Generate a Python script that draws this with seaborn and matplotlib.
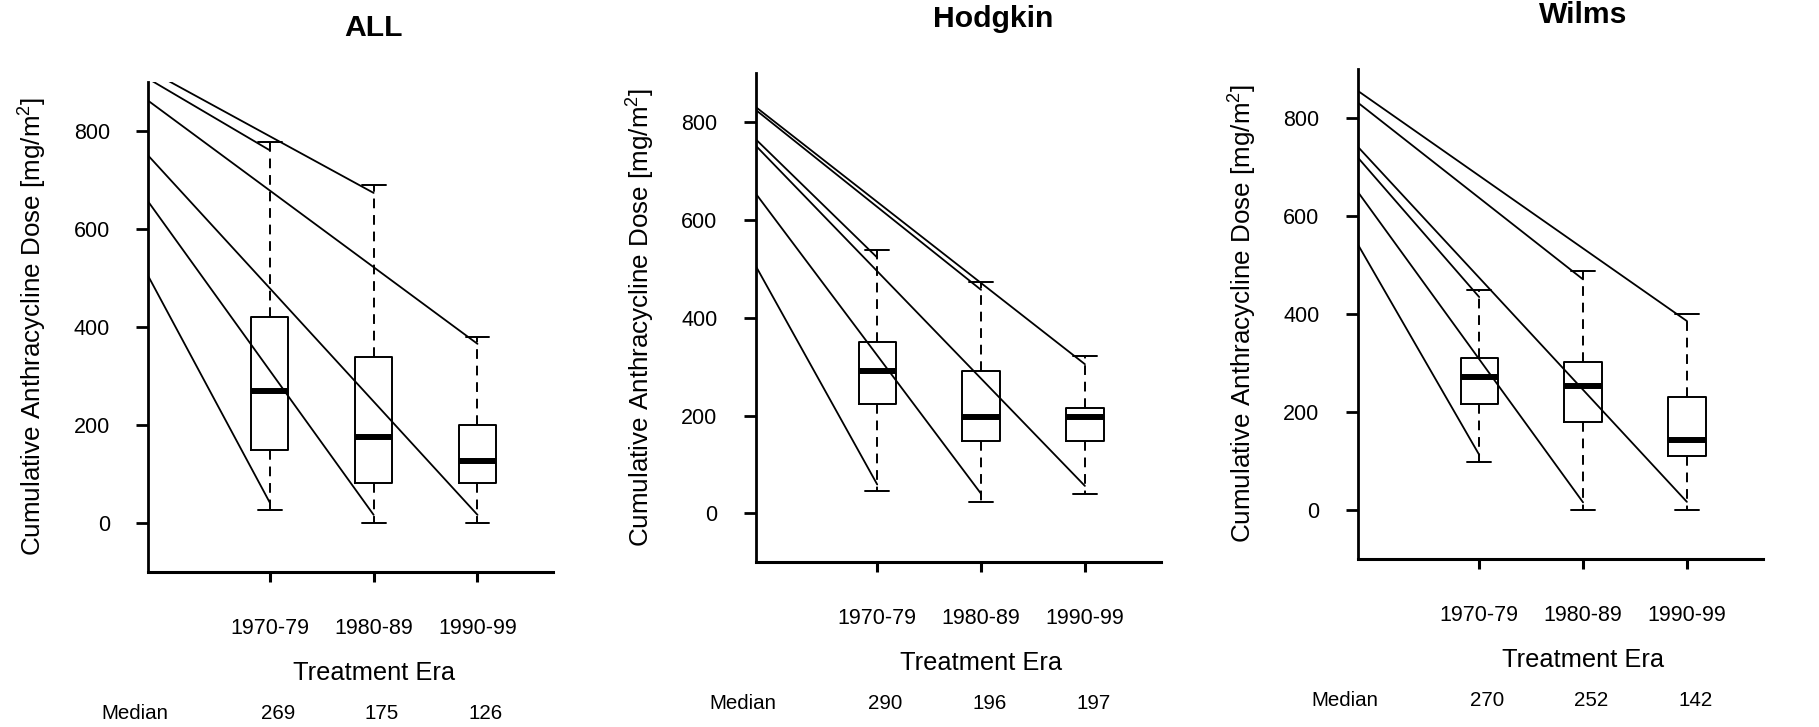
import numpy as np
import pandas as pd
import seaborn as sns
import matplotlib.pyplot as plt
from matplotlib import transforms

# dönemler
eras = ["1970-79", "1980-89", "1990-99"]

# ALL: alt bıyık, Q1, medyan, Q3, üst bıyık
all_low = [25, 0, 0]
all_q1 = [148, 82, 82]
all_med = [269, 175, 126]
all_q3 = [420, 338, 200]
all_high = [777, 690, 379]

# Hodgkin
hod_low = [45, 24, 40]
hod_q1 = [224, 147, 147]
hod_med = [290, 196, 197]
hod_q3 = [351, 290, 215]
hod_high = [539, 474, 322]

# Wilms
wil_low = [97, 0, 0]
wil_q1 = [215, 178, 109]
wil_med = [270, 252, 142]
wil_q3 = [309, 302, 229]
wil_high = [449, 487, 399]

# eksenden bıyık uçlarına giden çizgiler
all_line_start = [924, 906, 861, 749, 655, 503]
all_line_to = ["1980-89", "1970-79", "1990-99", "1990-99", "1980-89", "1970-79"]
all_line_end = [673, 760, 365, 16, 16, 41]

hod_line_start = [831, 825, 765, 752, 654, 506]
hod_line_to = ["1990-99", "1980-89", "1970-79", "1990-99", "1980-89", "1970-79"]
hod_line_end = [305, 457, 523, 56, 40, 59]

wil_line_start = [855, 831, 741, 719, 649, 542]
wil_line_to = ["1990-99", "1980-89", "1990-99", "1970-79", "1980-89", "1970-79"]
wil_line_end = [385, 470, 16, 434, 15, 112]

sns.set_style("white")
plt.rcParams['font.family'] = ['Liberation Sans', 'DejaVu Sans']
plt.rcParams['mathtext.default'] = 'regular'
for key in ['text.color', 'axes.labelcolor', 'xtick.color', 'ytick.color', 'axes.edgecolor']:
    plt.rcParams[key] = 'black'

XLIM = (-1.17, 2.73)
YLIM = (-100, 900)


def five_num_frame(low, q1, med, q3, high):
    rows = []
    for i, era in enumerate(eras):
        for v in (low[i], q1[i], med[i], q3[i], high[i]):
            rows.append({'Era': era, 'Dose': v})
    return pd.DataFrame(rows)


def draw_panel(ax, title, low, q1, med, q3, high, l_start, l_to, l_end, title_dx=0.0):
    df = five_num_frame(low, q1, med, q3, high)
    sns.boxplot(data=df, x='Era', y='Dose', order=eras, ax=ax, width=0.36,
                whis=(0, 100), fill=False, color='black', linewidth=1.4,
                showfliers=False, capwidths=0.23,
                medianprops={'linewidth': 4.3},
                whiskerprops={'linestyle': (0, (5, 3.5))})

    # çizgiler
    for s, t, e in zip(l_start, l_to, l_end):
        ax.plot([XLIM[0], eras.index(t)], [s, e], color='black', lw=1.3)

    ax.set_xlim(*XLIM)
    ax.set_ylim(*YLIM)
    ax.set_yticks([0, 200, 400, 600, 800])
    ax.set_xticks(range(len(eras)))
    ax.set_xticklabels(eras)

    for side in ['top', 'right']:
        ax.spines[side].set_visible(False)
    ax.spines['left'].set_linewidth(2.0)
    ax.spines['bottom'].set_linewidth(2.2)

    ax.tick_params(axis='y', length=8.6, width=2.0, pad=19, labelsize=15.5, direction='out', left=True)
    ax.tick_params(axis='x', length=7.2, width=2.2, pad=26, labelsize=15.5, direction='out', bottom=True)

    ax.set_ylabel('Cumulative Anthracycline Dose [mg/m$^2$]', fontsize=18.7)
    ax.yaxis.label.set_va('center')
    ax.yaxis.set_label_coords(-115 / 405, 0.5)

    xfrac = (1 - XLIM[0]) / (XLIM[1] - XLIM[0])
    ax.set_xlabel('Treatment Era', fontsize=18.3)
    ax.xaxis.label.set_va('center')
    ax.xaxis.set_label_coords(xfrac, -101 / 490)

    trans = transforms.blended_transform_factory(ax.transData, ax.transAxes)
    ax.text(XLIM[0] - 0.125, -142 / 490, 'Median', transform=trans,
            ha='center', va='center', fontsize=14.8)
    for i, m in enumerate(med):
        ax.text(i + 0.08, -142 / 490, str(m), transform=trans,
                ha='center', va='center', fontsize=14.8)

    ax.text(1 + title_dx, 1 + 54 / 490, title, transform=trans, ha='center',
            va='center', fontsize=21.7, fontweight='bold')


fig = plt.figure(figsize=(18.19, 7.27), dpi=100)
ax1 = fig.add_axes([0.08153, 0.21362, 0.22265, 0.67400])
ax2 = fig.add_axes([0.41545, 0.22669, 0.22265, 0.67260])
ax3 = fig.add_axes([0.74640, 0.23150, 0.22265, 0.67400])

draw_panel(ax1, 'ALL', all_low, all_q1, all_med, all_q3, all_high,
           all_line_start, all_line_to, all_line_end)
draw_panel(ax2, 'Hodgkin', hod_low, hod_q1, hod_med, hod_q3, hod_high,
           hod_line_start, hod_line_to, hod_line_end, title_dx=0.12)
draw_panel(ax3, 'Wilms', wil_low, wil_q1, wil_med, wil_q3, wil_high,
           wil_line_start, wil_line_to, wil_line_end)

fig.savefig('out.png', dpi=100)
